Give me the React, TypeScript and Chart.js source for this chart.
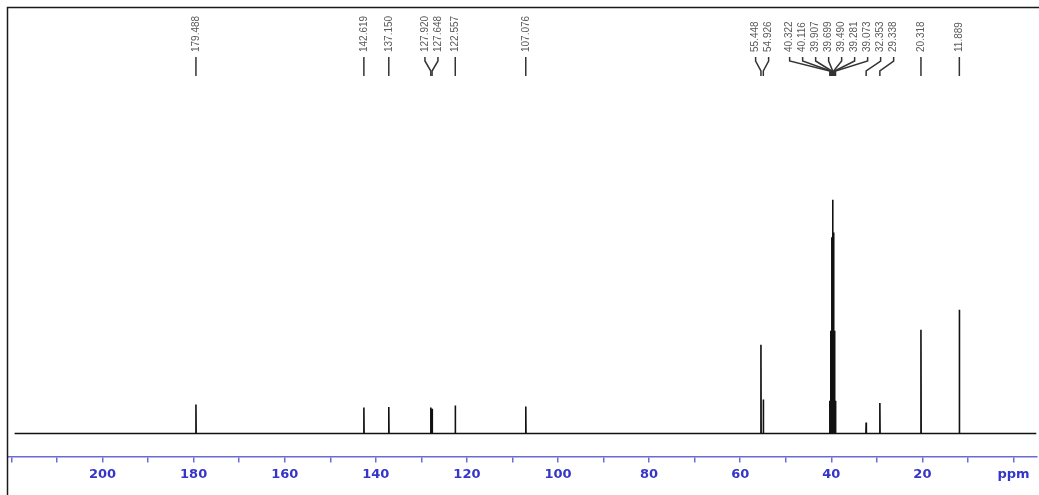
import React, { useEffect, useRef } from "react";
import { Chart, registerables } from "chart.js";

Chart.register(...registerables);

// 13C NMR peaks (ppm) and relative intensities (tallest = 100)
const peakPpm = [
  179.488, 142.619, 137.15, 127.92, 127.648, 122.557, 107.076,
  55.448, 54.926,
  40.322, 40.116, 39.907, 39.699, 39.49, 39.281, 39.073,
  32.353, 29.338, 20.318, 11.889,
];
const peakHeight = [
  12.4, 11.1, 11.3, 11.1, 10.6, 12.0, 11.5,
  38.0, 14.5,
  14, 44, 84, 100, 86, 44, 14,
  4.7, 13.0, 44.4, 53.0,
];
const spectrumStartPpm = 219.3;
const spectrumEndPpm = -5.0;
const axisMaxPpm = 220.75;
const axisMinPpm = -5.16;
const tickStepPpm = 10;
const labeledTicks = [200, 180, 160, 140, 120, 100, 80, 60, 40, 20];
const unitTickLabel = "ppm";

const PEAK_HALF_WIDTH = 0.05;

function buildSpectrum() {
  const order = peakPpm.map((p, i) => i).sort((a, b) => peakPpm[b] - peakPpm[a]);
  const pts: { x: number; y: number }[] = [{ x: spectrumStartPpm, y: 0 }];
  order.forEach((i) => {
    pts.push({ x: peakPpm[i] + PEAK_HALF_WIDTH, y: 0 });
    pts.push({ x: peakPpm[i], y: peakHeight[i] });
    pts.push({ x: peakPpm[i] - PEAK_HALF_WIDTH, y: 0 });
  });
  pts.push({ x: spectrumEndPpm, y: 0 });
  return pts;
}

const peakLabelPlugin = {
  id: "peakLabels",
  afterDraw(chart: any) {
    const ctx = chart.ctx;
    const xs = chart.scales.x;
    const gap = 13;
    const items = peakPpm
      .map((p) => ({ ppm: p, px: xs.getPixelForValue(p) }))
      .sort((a, b) => a.px - b.px);
    type Group = { members: typeof items; pos: number[] };
    const groups: Group[] = [];
    const layout = (g: Group) => {
      const n = g.members.length;
      const mean = g.members.reduce((s, m) => s + m.px, 0) / n;
      g.pos = g.members.map((_, i) => mean - ((n - 1) * gap) / 2 + i * gap);
    };
    items.forEach((it) => {
      let g: Group = { members: [it], pos: [it.px] };
      while (groups.length) {
        const prev = groups[groups.length - 1];
        if (prev.pos[prev.pos.length - 1] + gap > g.pos[0]) {
          groups.pop();
          g = { members: prev.members.concat(g.members), pos: [] };
          layout(g);
        } else break;
      }
      groups.push(g);
    });

    ctx.save();
    // frame
    ctx.strokeStyle = "#1a1a1a";
    ctx.lineWidth = 1.5;
    ctx.beginPath();
    ctx.moveTo(7.5, 495);
    ctx.lineTo(7.5, 7.5);
    ctx.lineTo(1039, 7.5);
    ctx.stroke();

    ctx.font = '10px "Liberation Sans", Arial, sans-serif';
    ctx.fillStyle = "#5a5a5a";
    ctx.textAlign = "left";
    ctx.textBaseline = "middle";
    ctx.strokeStyle = "#333";
    ctx.lineWidth = 1.5;
    groups.forEach((g) => {
      g.members.forEach((m, i) => {
        const lx = g.pos[i];
        ctx.save();
        ctx.translate(lx, 52);
        ctx.rotate(-Math.PI / 2);
        ctx.fillText(m.ppm.toFixed(3), 0, 0);
        ctx.restore();
        ctx.beginPath();
        ctx.moveTo(lx, 57);
        ctx.lineTo(lx, 61);
        ctx.lineTo(m.px, 71);
        ctx.lineTo(m.px, 76);
        ctx.stroke();
      });
    });
    ctx.restore();
  },
};

export default function App() {
  const ref = useRef<HTMLCanvasElement | null>(null);
  useEffect(() => {
    if (!ref.current) return;
    const chart = new Chart(ref.current, {
      type: "line",
      data: {
        datasets: [
          {
            data: buildSpectrum(),
            borderColor: "#111",
            borderWidth: 1.6,
            pointRadius: 0,
            tension: 0,
            fill: false,
          },
        ],
      },
      options: {
        animation: false,
        responsive: false,
        parsing: true,
        layout: { padding: { left: 8, right: 2, top: 80, bottom: 9 } },
        plugins: { legend: { display: false }, tooltip: { enabled: false } },
        scales: {
          x: {
            type: "linear",
            reverse: true,
            min: axisMinPpm,
            max: axisMaxPpm,
            border: { display: true, color: "#6b6bd6", width: 1.5 },
            grid: {
              drawOnChartArea: false,
              drawTicks: true,
              tickLength: 6,
              color: "#6b6bd6",
              lineWidth: 1.5,
            },
            ticks: {
              stepSize: tickStepPpm,
              includeBounds: false,
              autoSkip: false,
              maxRotation: 0,
              padding: 4,
              color: "#3535c8",
              font: { family: '"DejaVu Sans", sans-serif', size: 13, weight: "bold" },
              callback: (v: any) => {
                const n = Math.round(Number(v));
                if (n === 0) return unitTickLabel;
                return labeledTicks.includes(n) ? String(n) : "";
              },
            },
          },
          y: {
            display: false,
            min: -9.83,
            max: 151.3,
          },
        },
      },
      plugins: [peakLabelPlugin],
    });
    return () => chart.destroy();
  }, []);
  return (
    <div style={{ position: "fixed", left: 0, top: 0, width: 1039, height: 495, background: "#fff" }}>
      <canvas ref={ref} width={1039} height={495} />
    </div>
  );
}
